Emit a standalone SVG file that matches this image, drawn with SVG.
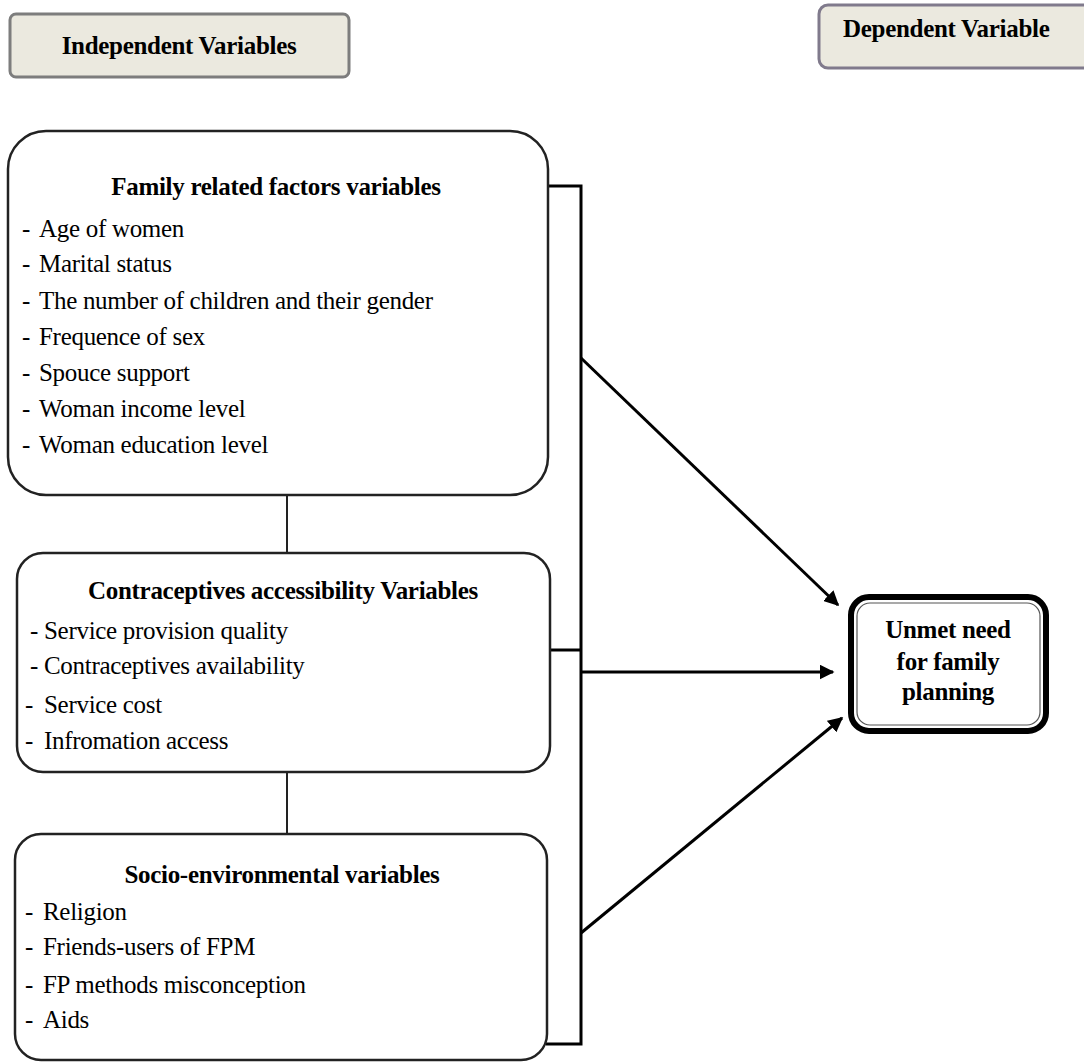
<svg xmlns="http://www.w3.org/2000/svg" width="1084" height="1063" viewBox="0 0 1084 1063">
<defs>
<marker id="arr" viewBox="0 0 10 10" refX="9" refY="5" markerWidth="5" markerHeight="5" orient="auto" markerUnits="strokeWidth">
<path d="M0,0 L10,5 L0,10 z" fill="#000"/>
</marker>
<style>
.hdr{fill:#ebe9df;stroke-width:3}
.box{fill:#fff;stroke:#222;stroke-width:2.5}
.t{font-family:"Liberation Serif","Times New Roman",serif;font-size:25px;fill:#000;letter-spacing:-0.3px}
.b{font-weight:bold;text-anchor:middle}
.ln{stroke:#000;stroke-width:3;fill:none}
.thin{stroke:#222;stroke-width:2;fill:none}
</style>
</defs>
<rect width="1084" height="1063" fill="#fff"/>
<g id="hdr-independent">
<rect class="hdr" x="10" y="14" width="339" height="63" rx="6" stroke="#7d7d7d"/>
<text class="t b" x="179" y="54" font-size="24">Independent Variables</text>
</g>
<g id="hdr-dependent">
<rect class="hdr" x="819" y="5" width="280" height="63" rx="9" stroke="#807a8c"/>
<text class="t" x="843" y="37" font-weight="bold" font-size="25" letter-spacing="0">Dependent Variable</text>
</g>
<g id="connectors">
<line class="thin" x1="287" y1="495" x2="287" y2="553"/>
<line class="thin" x1="287" y1="772" x2="287" y2="834"/>
<polyline class="ln" points="548,186 581,186 581,1044 546,1044"/>
<line class="ln" x1="550" y1="650" x2="581" y2="650"/>
<line class="ln" x1="581" y1="672" x2="833" y2="672" marker-end="url(#arr)"/>
<line class="ln" x1="581" y1="358" x2="838" y2="605" marker-end="url(#arr)"/>
<line class="ln" x1="581" y1="933" x2="842" y2="718" marker-end="url(#arr)"/>
</g>
<g id="family">
<rect class="box" x="8" y="131" width="540" height="364" rx="38"/>
<text class="t b" x="276" y="195">Family related factors variables</text>
<text class="t" x="22" y="237">-<tspan x="39">Age of women</tspan></text>
<text class="t" x="22" y="272">-<tspan x="39">Marital status</tspan></text>
<text class="t" x="22" y="309">-<tspan x="39">The number of children and their gender</tspan></text>
<text class="t" x="22" y="345">-<tspan x="39">Frequence of sex</tspan></text>
<text class="t" x="22" y="381">-<tspan x="39">Spouce support</tspan></text>
<text class="t" x="22" y="417">-<tspan x="39">Woman income level</tspan></text>
<text class="t" x="22" y="453">-<tspan x="39">Woman education level</tspan></text>
</g>
<g id="contraceptives">
<rect class="box" x="17" y="553" width="533" height="219" rx="26"/>
<text class="t b" x="283" y="599">Contraceptives accessibility Variables</text>
<text class="t" x="30" y="639">-<tspan x="44">Service provision quality</tspan></text>
<text class="t" x="30" y="674">-<tspan x="44">Contraceptives availability</tspan></text>
<text class="t" x="25" y="713">-<tspan x="44">Service cost</tspan></text>
<text class="t" x="25" y="749">-<tspan x="44">Infromation access</tspan></text>
</g>
<g id="socio">
<rect class="box" x="15" y="834" width="532" height="226" rx="26"/>
<text class="t b" x="282" y="883">Socio-environmental variables</text>
<text class="t" x="25" y="920">-<tspan x="43">Religion</tspan></text>
<text class="t" x="25" y="955">-<tspan x="43">Friends-users of FPM</tspan></text>
<text class="t" x="25" y="993">-<tspan x="43">FP methods misconception</tspan></text>
<text class="t" x="25" y="1028">-<tspan x="43">Aids</tspan></text>
</g>
<g id="unmet">
<rect x="851" y="597" width="195" height="134" rx="18" fill="#fff" stroke="#000" stroke-width="6"/>
<rect x="857" y="603" width="183" height="122" rx="13" fill="none" stroke="#555" stroke-width="1.2"/>
<text class="t b" x="948" y="638">Unmet need</text>
<text class="t b" x="948" y="670">for family</text>
<text class="t b" x="948" y="700">planning</text>
</g>
</svg>
